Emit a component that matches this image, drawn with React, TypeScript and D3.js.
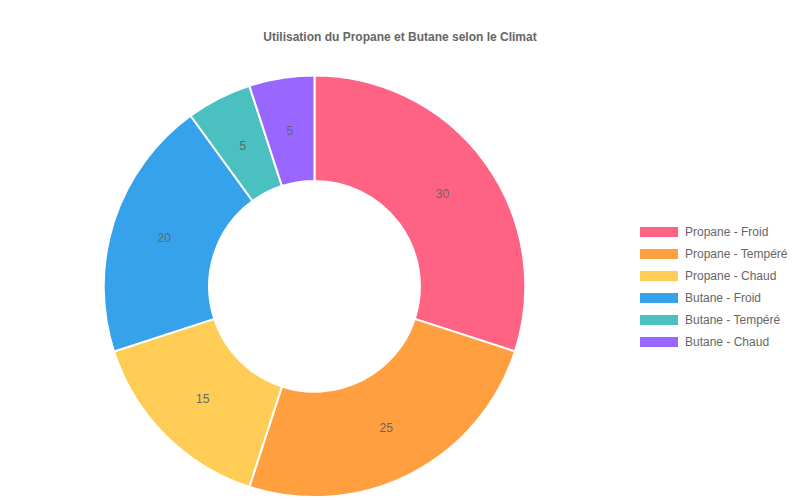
import React, { useRef, useEffect } from 'react';
import * as d3 from 'd3';

const labels = [
    "Propane - Froid",
    "Propane - Tempéré",
    "Propane - Chaud",
    "Butane - Froid",
    "Butane - Tempéré",
    "Butane - Chaud",
];
const values = [30, 25, 15, 20, 5, 5];
const colors = ["#ff6384", "#ff9f40", "#ffcd56", "#36a2eb", "#4bc0c0", "#9966ff"];
const title = "Utilisation du Propane et Butane selon le Climat";

export default function App() {
    const svgRef = useRef<SVGSVGElement>(null);

    useEffect(() => {
        if (!svgRef.current) return;
        const width = 800;
        const height = 500;
        const font = "'Liberation Sans', Arial, Helvetica, sans-serif";

        const svg = d3.select(svgRef.current);
        svg.selectAll("*").remove();
        svg.attr("width", width).attr("height", height);

        // Title
        svg.append("text")
            .attr("x", 400)
            .attr("y", 41)
            .attr("text-anchor", "middle")
            .style("font-family", font)
            .style("font-size", "12px")
            .style("font-weight", "bold")
            .style("fill", "#666")
            .text(title);

        const cx = 314.5;
        const cy = 286.3;
        const outer = 210.8;
        const inner = outer * 0.5;

        const pie = d3.pie<number>().sort(null).value(d => d);
        const arcs = pie(values);
        const arc = d3.arc<d3.PieArcDatum<number>>()
            .innerRadius(inner)
            .outerRadius(outer);
        const labelArc = d3.arc<d3.PieArcDatum<number>>()
            .innerRadius((inner + outer) / 2)
            .outerRadius((inner + outer) / 2);

        const g = svg.append("g").attr("transform", `translate(${cx},${cy})`);

        g.selectAll(".slice")
            .data(arcs)
            .enter()
            .append("path")
            .attr("class", "slice")
            .attr("d", arc)
            .attr("fill", (d, i) => colors[i])
            .attr("stroke", "#fff")
            .attr("stroke-width", 2)
            .attr("stroke-linejoin", "bevel");

        g.selectAll(".label")
            .data(arcs)
            .enter()
            .append("text")
            .attr("transform", d => `translate(${labelArc.centroid(d)})`)
            .attr("text-anchor", "middle")
            .attr("dy", "0.4em")
            .style("font-family", font)
            .style("font-size", "12px")
            .style("fill", "#666")
            .text(d => d.data);

        // Legend
        const legend = svg.append("g").attr("transform", "translate(640,232)");
        const items = legend.selectAll(".item")
            .data(labels)
            .enter()
            .append("g")
            .attr("transform", (d, i) => `translate(0,${i * 22})`);

        items.append("rect")
            .attr("x", 0)
            .attr("y", -5)
            .attr("width", 38)
            .attr("height", 10)
            .attr("fill", (d, i) => colors[i]);

        items.append("text")
            .attr("x", 45)
            .attr("y", 0)
            .attr("dy", "0.35em")
            .style("font-family", font)
            .style("font-size", "12px")
            .style("fill", "#666")
            .text(d => d);
    }, []);

    return (
        <div>
            <style>{"body{margin:0}"}</style>
            <svg ref={svgRef} style={{ display: "block" }} />
        </div>
    );
}
